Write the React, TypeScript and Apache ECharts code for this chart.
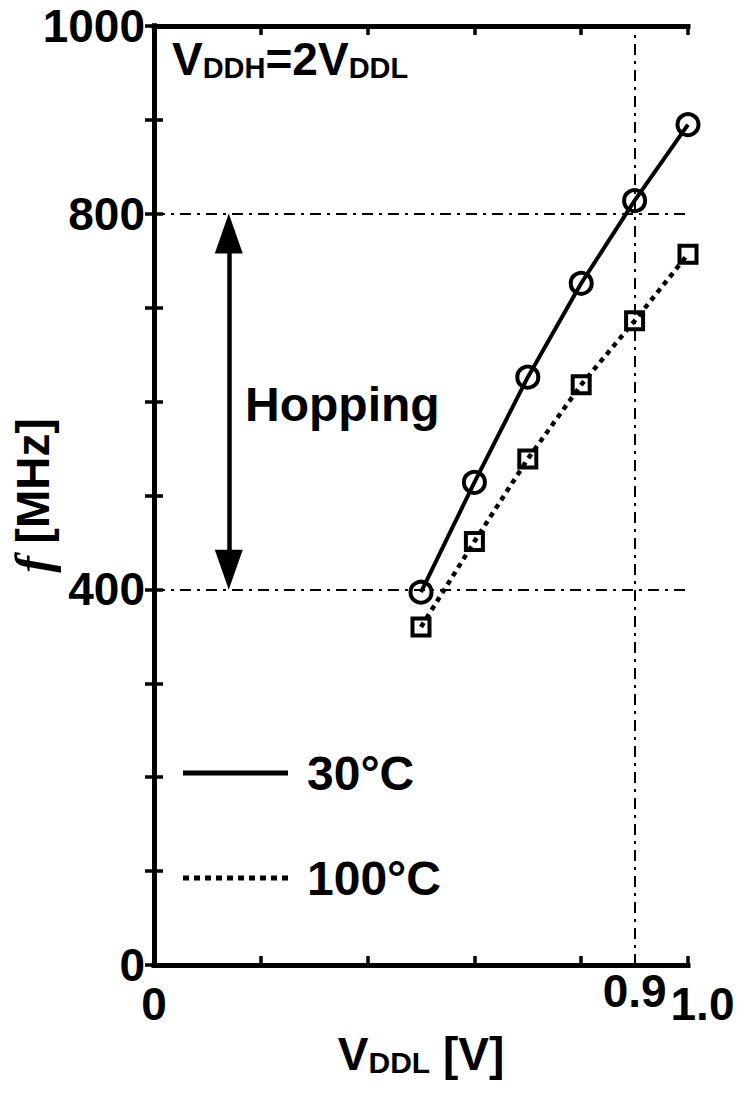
import React, { useEffect, useRef } from "react";
import * as echarts from "echarts";

// Data
const vddl = [0.5, 0.6, 0.7, 0.8, 0.9, 1.0];
const f30 = [397, 514, 626, 726, 814, 895];
const f100 = [360, 451, 539, 618, 686, 757];
const seriesNames = ["30°C", "100°C"];
const yTickLabels = [0, 400, 800, 1000];
const xTickLabels = [0, 1.0];
const refFreqs = [800, 400];
const refVoltage = 0.9;
const hopX = 0.14;
const hopRange = [421, 779]; // arrow head centres (tips touch 400 / 800)

const FONT = "'Liberation Sans', Arial, Helvetica, sans-serif";
const BLACK = "#000";

export default function App() {
  const ref = useRef<HTMLDivElement>(null);

  useEffect(() => {
    if (!ref.current) return;
    const chart = echarts.init(ref.current, null, { renderer: "svg" });
    const dashDot = [11, 6, 3, 6];
    const axisLine = { show: true, lineStyle: { color: BLACK, width: 5, cap: "square" } };
    const tick = { show: true, inside: true, length: 9, lineStyle: { color: BLACK, width: 3.5 } };
    const labelFont = { fontSize: 46, fontWeight: "bold", fontFamily: FONT, color: BLACK };

    const dotIcon =
      "path://M0,0h6v5h-6z M11,0h6v5h-6z M22,0h6v5h-6z M33,0h6v5h-6z M44,0h6v5h-6z M55,0h6v5h-6z M66,0h6v5h-6z M77,0h6v5h-6z M88,0h6v5h-6z M99,0h6v5h-6z";
    const solidIcon = "path://M0,0H105V5H0Z";

    const option: any = {
      animation: false,
      backgroundColor: "#fff",
      title: {
        left: 172,
        top: 36,
        padding: 0,
        text: "{m|V}{s|DDH}{m|=2V}{s|DDL}",
        textStyle: {
          rich: {
            m: { fontSize: 46, fontWeight: "bold", fontFamily: FONT, color: BLACK, lineHeight: 46, verticalAlign: "middle" },
            s: { fontSize: 29, fontWeight: "bold", fontFamily: FONT, color: BLACK, lineHeight: 20, verticalAlign: "bottom" },
          },
        },
      },
      legend: {
        orient: "vertical",
        left: 183,
        top: 745,
        padding: 0,
        itemWidth: 105,
        itemHeight: 5,
        itemGap: 49,
        selectedMode: false,
        data: [
          { name: seriesNames[0], icon: solidIcon },
          { name: seriesNames[1], icon: dotIcon },
        ],
        itemStyle: { color: BLACK, borderWidth: 0, borderColor: "transparent" },
        textStyle: { fontSize: 48, fontWeight: "bold", fontFamily: FONT, color: BLACK, lineHeight: 56, padding: [0, 0, 0, 14] },
      },
      grid: { left: 154, right: 50, top: 26, bottom: 128, containLabel: false, outerBoundsMode: "none" },
      xAxis: [
        {
          type: "value",
          position: "bottom",
          min: 0,
          max: 1,
          interval: 0.2,
          axisLine,
          axisTick: tick,
          splitLine: { show: false },
          name: "{m|V}{s|DDL}{m| [V]}",
          nameLocation: "middle",
          nameGap: 66,
          nameMoveOverlap: false,
          nameTextStyle: {
            rich: {
              m: { fontSize: 46, fontWeight: "bold", fontFamily: FONT, color: BLACK, lineHeight: 46, verticalAlign: "middle" },
              s: { fontSize: 30, fontWeight: "bold", fontFamily: FONT, color: BLACK, lineHeight: 20, verticalAlign: "bottom" },
            },
          },
          axisLabel: {
            ...labelFont,
            margin: 16,
            formatter: (v: number) => {
              if (Math.abs(v - xTickLabels[0]) < 1e-6) return "0";
              if (Math.abs(v - xTickLabels[1]) < 1e-6) return "{r|1.0}";
              return "";
            },
            rich: { r: { ...labelFont, padding: [0, 0, 0, 29] } },
          },
        },
        {
          type: "value",
          position: "bottom",
          min: 0,
          max: 1,
          interval: refVoltage,
          axisLine: { show: false },
          axisTick: { show: false },
          splitLine: { show: false },
          axisLabel: {
            ...labelFont,
            margin: 3,
            formatter: (v: number) => (Math.abs(v - refVoltage) < 1e-6 ? "0.9" : ""),
          },
        },
        {
          type: "value",
          position: "top",
          min: 0,
          max: 1,
          interval: 0.2,
          axisLine,
          axisTick: tick,
          axisLabel: { show: false },
          splitLine: { show: false },
        },
      ],
      yAxis: [
        {
          type: "value",
          position: "left",
          min: 0,
          max: 1000,
          interval: 100,
          axisLine,
          axisTick: tick,
          splitLine: { show: false },
          name: "{i|f}{m| [MHz]}",
          nameLocation: "middle",
          nameRotate: 90,
          nameGap: 96,
          nameMoveOverlap: false,
          nameTextStyle: {
            rich: {
              i: { fontSize: 50, fontWeight: "bold", fontStyle: "italic", fontFamily: "'Liberation Serif', 'DejaVu Serif', serif", color: BLACK },
              m: { fontSize: 46, fontWeight: "bold", fontFamily: FONT, color: BLACK },
            },
          },
          axisLabel: {
            ...labelFont,
            margin: 9,
            formatter: (v: number) => (yTickLabels.includes(v) ? String(v) : ""),
          },
        },
        {
          type: "value",
          position: "right",
          min: 0,
          max: 1000,
          interval: 100,
          axisLine,
          axisTick: tick,
          axisLabel: { show: false },
          splitLine: { show: false },
        },
      ],
      graphic: [
        {
          type: "text",
          x: 245,
          y: 404,
          style: {
            text: "Hopping",
            fontSize: 48,
            fontWeight: "bold",
            fontFamily: FONT,
            fill: BLACK,
            align: "left",
            verticalAlign: "middle",
          },
        },
      ],
      series: [
        {
          name: seriesNames[0],
          type: "line",
          xAxisIndex: 0,
          yAxisIndex: 0,
          clip: false,
          data: vddl.map((x, i) => [x, f30[i]]),
          symbol: "circle",
          symbolSize: 21,
          itemStyle: { color: "rgba(0,0,0,0)", borderColor: BLACK, borderWidth: 4 },
          lineStyle: { color: BLACK, width: 4 },
          z: 5,
          markLine: {
            silent: true,
            symbol: "none",
            label: { show: false },
            lineStyle: { color: BLACK, width: 2, type: dashDot },
            data: [{ yAxis: refFreqs[0] }, { yAxis: refFreqs[1] }, { xAxis: refVoltage }],
            z: 1,
          },
        },
        {
          name: seriesNames[1],
          type: "line",
          xAxisIndex: 0,
          yAxisIndex: 0,
          clip: false,
          data: vddl.map((x, i) => [x, f100[i]]),
          symbol: "rect",
          symbolSize: 17,
          itemStyle: { color: "rgba(0,0,0,0)", borderColor: BLACK, borderWidth: 4 },
          lineStyle: { color: BLACK, width: 4.5, type: [5, 5] },
          z: 5,
        },
        {
          name: "hopping",
          type: "line",
          xAxisIndex: 0,
          yAxisIndex: 0,
          data: [],
          markLine: {
            silent: true,
            symbol: ["triangle", "triangle"],
            symbolSize: [28, 40],
            label: { show: false },
            lineStyle: { color: BLACK, width: 4.5, type: "solid" },
            itemStyle: { color: BLACK },
            data: [[{ coord: [hopX, hopRange[1]] }, { coord: [hopX, hopRange[0]] }]],
          },
        },
      ],
    };
    chart.setOption(option);
    return () => chart.dispose();
  }, []);

  return (
    <div
      ref={ref}
      style={{ position: "fixed", left: 0, top: 0, width: 738, height: 1093, background: "#fff" }}
    />
  );
}
